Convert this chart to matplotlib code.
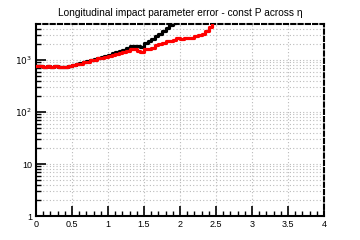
import numpy as np
import matplotlib
matplotlib.use("Agg")
import matplotlib.pyplot as plt
from matplotlib.ticker import FixedLocator, LogLocator, NullFormatter

plt.rcParams['font.family'] = ['Liberation Sans', 'DejaVu Sans']

title = "Longitudinal impact parameter error - const P across η"

eta_edges = np.round(np.arange(0, 2.55, 0.05), 3)

red_vals = [760, 777, 743, 777, 743, 760, 743, 743, 743, 777,
            795, 830, 849, 907, 927, 990, 1013, 1081, 1106, 1156,
            1209, 1263, 1320, 1360, 1442, 1507, 1610, 1646, 1507, 1460,
            1610, 1646, 1721, 1922, 2010, 2146, 2280, 2280, 2451, 2640,
            2500, 2620, 2640, 2640, 2860, 2990, 3194, 3560, 4352, 5600]

black_vals = [760, 777, 743, 777, 743, 760, 743, 743, 743, 777,
              795, 830, 868, 927, 969, 1013, 1058, 1106, 1156, 1209,
              1263, 1351, 1412, 1475, 1575, 1683, 1839, 1880, 1839, 1799,
              2100, 2345, 2561, 2860, 3124, 3565, 4073, 4650, 5190, 5800]

xticks = [0, 0.5, 1, 1.5, 2, 2.5, 3, 3.5, 4]
xticklabels = ["0", "0.5", "1", "1.5", "2", "2.5", "3", "3.5", "4"]
yticks = [1, 10, 100, 1000]
yticklabels = ["1", "10", "$10^{2}$", "$10^{3}$"]

fig = plt.figure(figsize=(3.6, 2.4), dpi=100)
ax = fig.add_axes([0.1, 0.1, 0.8, 0.8])

def steps(vals):
    n = len(vals)
    edges = eta_edges[:n + 1]
    return edges, np.append(vals, vals[-1])

e, v = steps(black_vals)
ax.step(e, v, where='post', color='black', lw=2.3, zorder=3)
e, v = steps(red_vals)
ax.step(e, v, where='post', color='red', lw=2.3, zorder=4)

ax.set_yscale('log')
ax.set_xlim(0, 4)
ax.set_ylim(1, 4950)

ax.xaxis.set_major_locator(FixedLocator(xticks))
ax.set_xticklabels(xticklabels)
ax.xaxis.set_minor_locator(FixedLocator(np.arange(0, 4.01, 0.1)))
ax.yaxis.set_major_locator(FixedLocator(yticks))
ax.set_yticklabels(yticklabels)
ax.yaxis.set_minor_locator(LogLocator(base=10, subs=np.arange(2, 10)))
ax.yaxis.set_minor_formatter(NullFormatter())

ax.tick_params(axis='both', which='major', direction='in', labelsize=6.5, length=7, width=1.2, color='black', pad=3)
ax.tick_params(axis='both', which='minor', direction='in', length=3.5, width=1.0)
ax.tick_params(top=False, right=False, which='both')

ax.grid(True, which='major', axis='x', color='#bbbbbb', linestyle=(0, (1, 2)), lw=0.8)
ax.grid(True, which='both', axis='y', color='#bbbbbb', linestyle=(0, (1, 2)), lw=0.8)

for s in ['left', 'bottom']:
    ax.spines[s].set_linewidth(1.5)
for s in ['top', 'right']:
    ax.spines[s].set_linewidth(1.5)
    ax.spines[s].set_linestyle((0, (2, 1.5)))

fig.text(0.5, 0.945, title, ha='center', va='center', fontsize=7.3)

fig.savefig("out.png", dpi=100)
